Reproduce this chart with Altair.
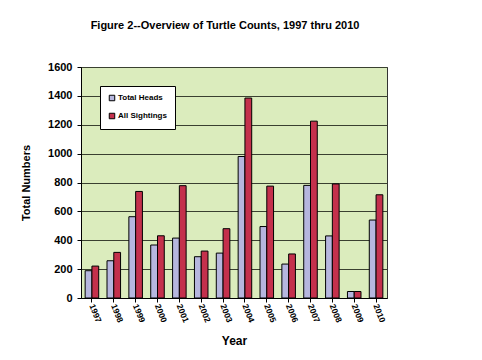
import altair as alt
import pandas as pd

years = ["1997", "1998", "1999", "2000", "2001", "2002", "2003", "2004",
         "2005", "2006", "2007", "2008", "2009", "2010"]
total_heads = [189, 258, 563, 367, 415, 286, 311, 980, 495, 235, 780, 430, 45, 540]
all_sightings = [221, 316, 738, 431, 778, 325, 480, 1385, 775, 305, 1225, 790, 45, 715]
series = ["Total Heads", "All Sightings"]
colors = ["#b6b6de", "#c4304c"]

rows = []
for i, y in enumerate(years):
    rows.append({"Year": y, "Series": series[0], "Value": total_heads[i]})
    rows.append({"Year": y, "Series": series[1], "Value": all_sightings[i]})
df = pd.DataFrame(rows)

FONT = "Liberation Sans"

chart = alt.Chart(df).mark_bar(stroke="black", strokeWidth=1).encode(
    x=alt.X("Year:N", sort=years,
            scale=alt.Scale(paddingInner=0.38, paddingOuter=0.19),
            axis=alt.Axis(title="Year", labelAngle=68, labelAlign="left",
                          labelBaseline="middle", labelFontSize=8.5,
                          labelFontWeight="bold", labelFont=FONT,
                          titleFont=FONT, titleFontSize=12, titleFontWeight="bold",
                          titlePadding=12, tickSize=4, domainColor="black",
                          tickColor="black", labelColor="black", labelPadding=2)),
    xOffset=alt.XOffset("Series:N", sort=series),
    y=alt.Y("Value:Q", scale=alt.Scale(domain=[0, 1600]),
            axis=alt.Axis(title="Total Numbers", values=list(range(0, 1601, 200)),
                          format="d",
                          labelFont=FONT, labelFontSize=11, labelFontWeight="bold",
                          labelColor="black", titleFont=FONT, titleFontSize=11,
                          titleFontWeight="bold", titleColor="black",
                          titlePadding=16, tickSize=4, tickColor="black",
                          domainColor="black", labelPadding=5,
                          grid=True, gridColor="#3a4030", gridWidth=1)),
    color=alt.Color("Series:N", sort=series,
                    scale=alt.Scale(domain=series, range=colors),
                    legend=alt.Legend(title=None, orient="none", legendX=19, legendY=19,
                                      fillColor="white", strokeColor="black",
                                      padding=8, symbolType="square", symbolSize=30,
                                      symbolStrokeColor="black", symbolStrokeWidth=1,
                                      labelFont=FONT, labelFontSize=8,
                                      labelFontWeight="bold", rowPadding=8,
                                      labelOffset=2, offset=0)),
).properties(
    width=306, height=231,
    title=alt.TitleParams("Figure 2--Overview of Turtle Counts, 1997 thru 2010",
                          font=FONT, fontSize=11, fontWeight="bold", color="black",
                          anchor="middle", offset=30, dx=-9),
    padding={"left": 81, "top": 67, "right": 95, "bottom": 62},
    autosize=alt.AutoSizeParams(type="none"),
    background="white",
).configure_view(
    fill="#dbecbd", stroke="#333333", strokeWidth=1
)

chart.save("out.html", embed_options={"renderer": "svg", "actions": False})
